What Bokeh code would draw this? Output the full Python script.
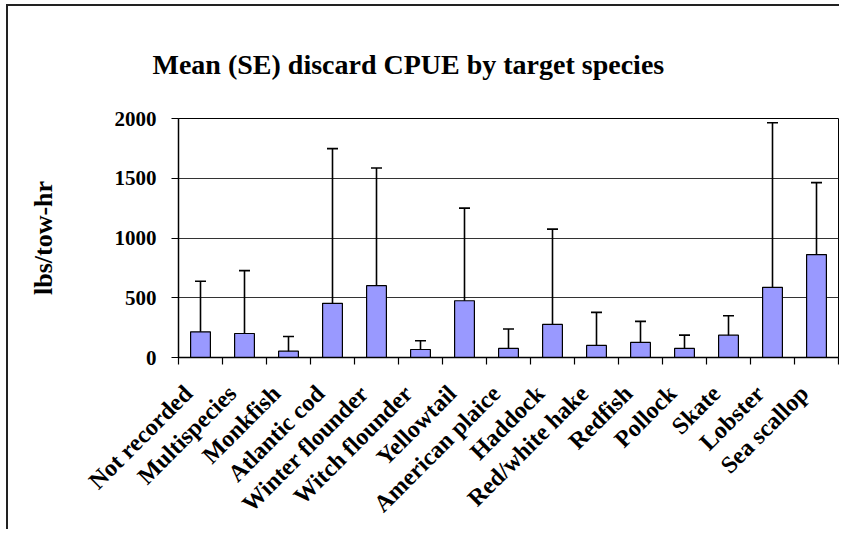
import math
from bokeh.plotting import figure
from bokeh.models import ColumnDataSource, Whisker, TeeHead, FixedTicker, Range1d
from bokeh.embed import file_html
from bokeh.resources import INLINE

categories = ["Not recorded", "Multispecies", "Monkfish", "Atlantic cod", "Winter flounder",
              "Witch flounder", "Yellowtail", "American plaice", "Haddock", "Red/white hake",
              "Redfish", "Pollock", "Skate", "Lobster", "Sea scallop"]
mean_cpue = [215, 201, 53, 453, 601, 67, 475, 76, 277, 101, 126, 76, 187, 587, 861]
se_cpue = [423, 526, 123, 1295, 985, 73, 775, 162, 797, 277, 176, 111, 163, 1377, 602]
y_ticks = [0, 500, 1000, 1500, 2000]
title_text = "Mean (SE) discard CPUE by target species"

FONT = "Liberation Serif"

xpos = [i + 0.5 for i in range(len(categories))]
upper = [m + s for m, s in zip(mean_cpue, se_cpue)]
lower = [max(0, m - s) for m, s in zip(mean_cpue, se_cpue)]
src = ColumnDataSource(dict(x=xpos, mean=mean_cpue, upper=upper, lower=lower, cat=categories))

# label anchors sit slightly left of the category centre (rotated text end)
label_pos = [round(i + 0.22, 2) for i in range(len(categories))]

p = figure(width=833, height=525, output_backend="svg", toolbar_location=None,
           x_range=Range1d(0, len(categories)), y_range=Range1d(0, 2000),
           min_border_left=170, min_border_right=3, min_border_top=112, min_border_bottom=174,
           title=title_text)
p.styles = {"border-left": "2px solid #222", "border-top": "2px solid #222",
            "margin-left": "6px", "margin-top": "4px"}

p.title.text_font = FONT
p.title.text_font_size = "28px"
p.title.text_font_style = "bold"
p.title.text_color = "black"
p.title.align = "left"
p.title.offset = -26
p.title.standoff = 78

p.outline_line_color = "black"
p.outline_line_width = 1

p.vbar(x="x", top="mean", bottom=0, width=0.45, source=src,
       fill_color="#9999FF", line_color="black", line_width=1.2)

w = Whisker(source=src, base="x", upper="upper", lower="lower",
            line_color="black", line_width=1.6,
            upper_head=TeeHead(size=11, line_width=1.6, line_color="black"),
            lower_head=None)
p.add_layout(w)

# x axis
xaxis = p.below[0]
xaxis.ticker = FixedTicker(ticks=label_pos, minor_ticks=list(range(len(categories) + 1)))
xaxis.major_label_overrides = {x: c for x, c in zip(label_pos, categories)}
xaxis.major_tick_line_color = None
xaxis.minor_tick_line_color = "black"
xaxis.minor_tick_line_width = 1.2
xaxis.minor_tick_out = 7
xaxis.minor_tick_in = 0
xaxis.major_label_orientation = math.pi / 4
xaxis.major_label_text_font = FONT
xaxis.major_label_text_font_size = "24px"
xaxis.major_label_text_font_style = "bold"
xaxis.major_label_text_color = "black"
xaxis.major_label_standoff = 25
xaxis.axis_line_color = "black"
xaxis.axis_line_width = 1.5

# y axis
p.yaxis.ticker = FixedTicker(ticks=y_ticks)
p.yaxis.major_tick_out = 7
p.yaxis.major_tick_in = 0
p.yaxis.major_tick_line_width = 1.2
p.yaxis.major_tick_line_color = "black"
p.yaxis.minor_tick_line_color = None
p.yaxis.major_label_text_font = FONT
p.yaxis.major_label_text_font_size = "21px"
p.yaxis.major_label_text_font_style = "bold"
p.yaxis.major_label_text_color = "black"
p.yaxis.major_label_standoff = 15
p.yaxis.axis_line_color = "black"
p.yaxis.axis_line_width = 1.5
p.yaxis.axis_label = "lbs/tow-hr"
p.yaxis.axis_label_text_font = FONT
p.yaxis.axis_label_text_font_size = "26px"
p.yaxis.axis_label_text_font_style = "bold"
p.yaxis.axis_label_text_color = "black"
p.yaxis.axis_label_standoff = 54

p.xgrid.grid_line_color = None
p.ygrid.ticker = FixedTicker(ticks=y_ticks)
p.ygrid.grid_line_color = "#333333"
p.ygrid.grid_line_width = 1

open("out.html", "w").write(file_html(p, INLINE))
